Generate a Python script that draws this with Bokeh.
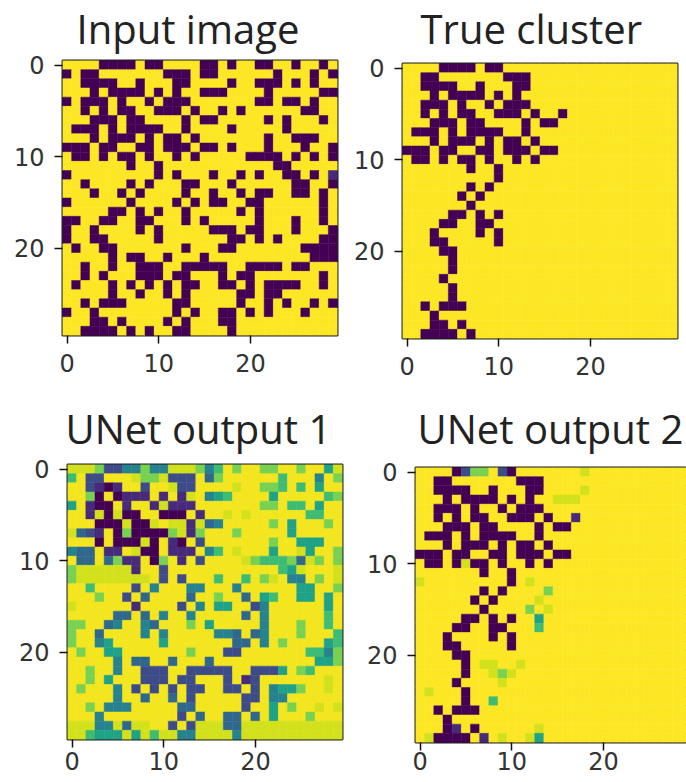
from bokeh.plotting import figure
from bokeh.layouts import column, row
from bokeh.embed import file_html
from bokeh.resources import INLINE
from bokeh.models import LinearColorMapper, FixedTicker, Range1d, ColumnDataSource
from bokeh.core.properties import value
from bokeh.palettes import Viridis256
import numpy as np

titles = ["Input image", "True cluster", "UNet output 1", "UNet output 2"]
tick_values = [0, 10, 20]
# colour value of each digit used in the grids below
levels = [0.0, 1.1, 2.1, 3.0, 4.0, 5.2, 6.2, 7.2, 8.4, 9.0]

# each digit is one cell: 0 = darkest ... 9 = brightest
input_image = [
"99990 00090 09999 00909 90099 09909",
"09009 99999 90009 00999 99909 99090",
"99000 09909 99009 99909 90009 09099",
"99909 00009 09099 00099 99099 99900",
"09000 90990 90009 99999 90090 09099",
"99090 90099 00090 99090 99999 90099",
"99900 09009 99909 00999 99090 99909",
"90009 09000 09909 99909 99990 99999",
"99909 00090 90090 99999 99099 00099",
"00090 09900 90009 00909 99099 90990",
"90090 90090 99090 99999 00009 09090",
"99999 99099 09999 99999 99900 99999",
"09999 99999 09099 90990 90990 09091",
"99099 99090 99900 99909 99999 00990",
"99909 90909 99909 90990 90099 00909",
"09999 99099 99090 90099 00999 99909",
"99999 00909 09909 99990 90999 99909",
"00990 09900 99909 09999 90999 09909",
"09909 99909 09999 90009 00999 09990",
"09900 99999 09999 99900 90909 99900",
"90990 09999 99909 99009 99999 90000",
"99999 09009 90999 09999 99999 99000",
"99099 09900 09900 00099 00009 00999",
"99090 99900 09009 99090 09999 99909",
"90999 09090 90900 99009 09000 09909",
"99999 09909 90909 99990 09009 99999",
"99090 00999 99009 99990 99090 99090",
"09909 99999 99090 99009 09099 90999",
"99900 90999 90909 99009 99999 99999",
"99000 09090 99009 99909 99999 99999",
]

true_cluster = [
"99990 00090 09999 99999 99999 99999",
"99009 99999 90009 99999 99999 99999",
"99000 09909 99009 99999 99999 99999",
"99909 00009 09099 99999 99999 99999",
"99000 90990 90009 99999 99999 99999",
"99090 90099 00090 99099 99999 99999",
"99900 09009 99909 00999 99999 99999",
"90009 09000 09909 99999 99999 99999",
"99909 00090 90090 99999 99999 99999",
"00090 09900 90009 00999 99999 99999",
"90090 90090 99090 99999 99999 99999",
"99999 99099 09999 99999 99999 99999",
"99999 99999 09999 99999 99999 99999",
"99999 99090 99999 99999 99999 99999",
"99999 90909 99999 99999 99999 99999",
"99999 99099 99999 99999 99999 99999",
"99999 00909 09999 99999 99999 99999",
"99990 09900 99999 99999 99999 99999",
"99909 99909 09999 99999 99999 99999",
"99900 99999 09999 99999 99999 99999",
"99990 09999 99999 99999 99999 99999",
"99999 09999 99999 99999 99999 99999",
"99999 09999 99999 99999 99999 99999",
"99990 99999 99999 99999 99999 99999",
"99999 09999 99999 99999 99999 99999",
"99999 09999 99999 99999 99999 99999",
"99090 00999 99999 99999 99999 99999",
"99909 99999 99999 99999 99999 99999",
"99900 90999 99999 99999 99999 99999",
"99000 09099 99999 99999 99999 99999",
]

unet_output_1 = [
"88872 24474 48887 46979 97799 79958",
"69229 99877 82229 37999 99969 99497",
"99210 19929 98229 99989 97769 69599",
"99709 01119 19189 45699 99599 99967",
"59100 91991 81119 99999 97796 69599",
"99180 80099 00091 99898 99999 96699",
"99900 08008 98818 34999 99795 99979",
"83219 07000 07817 99979 99995 99999",
"99909 00080 91092 99999 99799 55599",
"43391 19800 91119 46989 99599 85997",
"93393 71190 79192 99998 76667 38797",
"78888 88199 29999 99999 99965 89998",
"78888 88889 29299 96996 97894 49798",
"99699 99294 99944 99949 99999 55997",
"99979 92939 99939 97993 95699 55959",
"89999 99199 99294 95599 24999 99959",
"99999 33939 49949 99993 94999 99969",
"77993 49943 99979 59999 94999 79969",
"79939 99949 49999 94439 34999 79996",
"79945 99999 59999 99933 94979 99956",
"97995 59999 99979 99229 99999 96647",
"99999 49339 93999 39999 99999 99557",
"99799 49922 29922 22299 22259 76999",
"99795 99922 29229 99291 29999 99989",
"97999 49292 92922 99229 29455 79989",
"99999 49939 93929 99992 29449 99999",
"99794 44999 99339 99992 99597 99898",
"99949 99999 99293 99339 39599 97999",
"88844 83889 92928 88338 88888 88888",
"88655 58586 88448 88848 88888 88888",
]

unet_output_2 = [
"99990 27792 09999 99989 99999 99999",
"99009 99999 90009 99999 99999 99999",
"99000 09909 99009 99989 99999 99999",
"99909 00009 09099 88899 99999 99999",
"99000 90990 90009 99999 99999 99999",
"99090 90099 00090 99199 99999 99999",
"99900 09009 99909 00999 99999 99999",
"90009 09000 09909 99999 99999 99999",
"99909 00090 90090 99999 99999 99999",
"00090 09900 90009 00999 99999 99999",
"90090 80090 99090 99999 99999 99999",
"99999 99099 09999 99999 99999 99999",
"89999 99999 09899 99999 99999 99999",
"99999 99090 99997 99999 99999 99999",
"99999 90909 99989 99999 99999 99999",
"99999 99099 99798 99999 99999 99999",
"99999 00909 09959 99999 99999 99999",
"99990 09900 99969 99999 99999 99999",
"99909 99909 09999 99999 99999 99999",
"99900 99999 09999 99999 99999 99999",
"99990 09999 99999 99999 99999 99999",
"99999 09889 98999 99999 99999 99999",
"99999 09987 89999 99999 99999 99999",
"99990 99998 99999 99999 99999 99999",
"98999 09999 99999 99999 99999 99999",
"99999 09969 99999 99999 99999 99999",
"99090 00999 99999 99999 99999 99999",
"99909 99999 99999 99999 99999 99999",
"99901 90999 99989 99999 99999 99999",
"98000 09198 99859 99999 99999 99999",
]

FRAME = 275
OVERLAP = 12

def cells(rows, top):
    table = levels[:-1] + [top]
    return np.array([[table[int(ch)] for ch in r.replace(" ", "")] for r in rows], dtype=float)

mapper = LinearColorMapper(palette=Viridis256, low=0, high=9)

def panel(rows, left, top, width, height, frame_w, x_standoff=10, x_end=29.5, bright=9.0):
    p = figure(width=width, height=height + OVERLAP, output_backend="svg", toolbar_location=None,
               x_range=Range1d(-0.5, x_end), y_range=Range1d(29.5, -0.5),
               min_border_left=left, min_border_top=top + OVERLAP,
               min_border_right=width-left-frame_w,
               min_border_bottom=height-top-FRAME, title=None,
               margin=(-OVERLAP, 0, 0, 0), border_fill_alpha=0, background_fill_alpha=0)
    grid = cells(rows, bright)
    ys, xs = np.indices(grid.shape)
    src = ColumnDataSource(dict(x=xs.ravel(), y=ys.ravel(), v=grid.ravel()))
    p.rect(x="x", y="y", width=1, height=1, source=src,
           fill_color={"field": "v", "transform": mapper},
           line_color={"field": "v", "transform": mapper}, line_width=0.5)
    p.grid.visible = False
    for ax in (p.xaxis[0], p.yaxis[0]):
        ax.ticker = FixedTicker(ticks=tick_values)
        ax.minor_tick_line_color = None
        ax.major_tick_out = 8
        ax.major_tick_in = 0
        ax.major_tick_line_color = "#111111"
        ax.major_tick_line_width = 1.5
        ax.axis_line_color = None
        ax.major_label_text_font = "DejaVu Sans"
        ax.major_label_text_font_size = "24px"
        ax.major_label_text_color = "#333333"
    p.xaxis[0].major_label_standoff = x_standoff
    p.yaxis[0].major_label_standoff = 10
    p.outline_line_color = "#222222"
    p.outline_line_width = 2
    return p

def title_band(names, xs, y, height):
    b = figure(width=686, height=height, output_backend="svg", toolbar_location=None,
               x_range=Range1d(0, 686), y_range=Range1d(height, 0),
               x_axis_type=None, y_axis_type=None, min_border=0)
    b.grid.visible = False
    b.outline_line_color = None
    b.text(x=xs, y=[y] * len(names), text=names, text_font=value("Open Sans"),
           text_font_size="40px", text_color="#222222", text_baseline="middle")
    return b

band1 = title_band(titles[:2], [76, 420], 28, 56)
p1 = panel(input_image, 62, 4, 345, 336, FRAME)
p2 = panel(true_cluster, 57, 7, 341, 336, FRAME)
band2 = title_band(titles[2:], [65, 417], 36, 64)
p3 = panel(unet_output_1, 67, 8, 348, 326, FRAME, x_standoff=4, bright=8.85)
p4 = panel(unet_output_2, 67, 11, 338, 326, 271, x_standoff=1, x_end=29.05)

layout = column(band1, row(column(p1), column(p2), spacing=0), band2,
                row(column(p3), column(p4), spacing=0), spacing=0)
open("out.html", "w").write(file_html(layout, INLINE))
